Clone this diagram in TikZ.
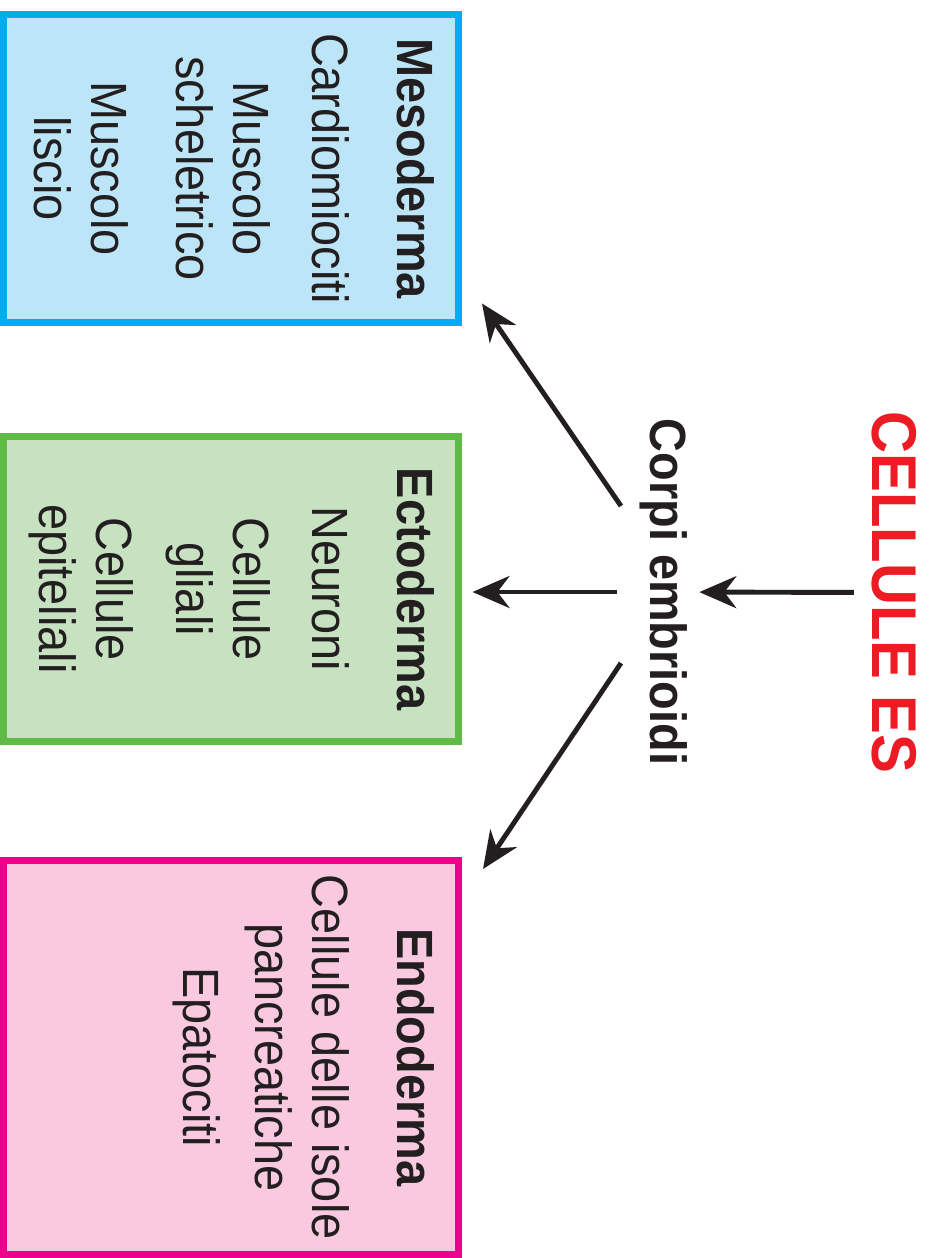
\documentclass[tikz,border=0pt]{standalone}
\usepackage{fontspec}
\setmainfont{Liberation Sans}[FakeStretch=0.92]
\usepackage{tikz}
\usetikzlibrary{arrows.meta,positioning,calc}

\definecolor{MesoLine}{RGB}{0,174,239}
\definecolor{MesoFill}{RGB}{188,229,248}
\definecolor{EctoLine}{RGB}{96,187,70}
\definecolor{EctoFill}{RGB}{199,226,193}
\definecolor{EndoLine}{RGB}{236,0,140}
\definecolor{EndoFill}{RGB}{248,201,223}
\definecolor{EsRed}{RGB}{237,28,36}
\definecolor{Ink}{RGB}{35,31,32}

\begin{document}
\begin{tikzpicture}[rotate=-90, transform shape,
  every node/.style={text=Ink},
  layer/.style={draw, line width=2pt, minimum width=#1, minimum height=4.55cm,
                inner sep=0pt, outer sep=0pt},
  items/.style={anchor=north, align=center, inner sep=0pt,
                font=\fontsize{14.5}{16.2}\selectfont},
  arr/.style={-{Stealth[length=3.7mm,width=3.2mm]}, line width=1.4pt, draw=Ink}]
  \useasboundingbox (0,0) rectangle (12.58,9.30);

  % the three germ layers
  \node[layer=3.08cm, draw=MesoLine, fill=MesoFill] (meso) at (1.685,2.31) {};
  \node[layer=3.05cm, draw=EctoLine, fill=EctoFill] (ecto) at (5.89,2.31) {};
  \node[layer=3.935cm, draw=EndoLine, fill=EndoFill] (endo) at (10.5725,2.31) {};

  \node[items] at ($(meso.north)-(0,0.2)$)
    {\strut\bfseries Mesoderma\\[8pt] Cardiomiociti\\[6.5pt]
     Muscolo\\ scheletrico\\[8pt] Muscolo\\ liscio};
  \node[items] at ($(ecto.north)-(0,0.2)$)
    {\strut\bfseries Ectoderma\\[8pt] Neuroni\\[6.5pt]
     Cellule\\ gliali\\[6.5pt] Cellule\\ epiteliali};
  \node[items] at ($(endo.north)-(0,0.2)$)
    {\strut\bfseries Endoderma\\[8pt] Cellule delle isole\\
     pancreatiche\\[4.5pt] Epatociti};

  % source and intermediate stage
  \node[anchor=base, text=EsRed, font=\fontsize{18}{20}\selectfont\bfseries]
    (cellule) at (5.925,8.72) {CELLULE ES};
  \node[anchor=base, font=\fontsize{14.5}{16.2}\selectfont\bfseries]
    (corpi) at (5.92,6.50) {Corpi embrioidi};

  \coordinate (upfrom) at ($(corpi.south)+(-0.86,-0.06)$);
  \coordinate (downfrom) at ($(corpi.south)+(0.71,-0.06)$);
  \coordinate (mesoto) at ($(meso.north east)+(-0.19,0.235)$);
  \coordinate (endoto) at ($(endo.north west)+(0.085,0.245)$);

  \draw[arr, shorten <=0.5mm] (cellule) -- (corpi);
  \draw[arr, shorten <=1mm, shorten >=1.4mm]
    (corpi.south) -- (corpi.south |- ecto.north);
  \draw[arr] (upfrom) -- (mesoto);
  \draw[arr] (downfrom) -- (endoto);
\end{tikzpicture}
\end{document}
